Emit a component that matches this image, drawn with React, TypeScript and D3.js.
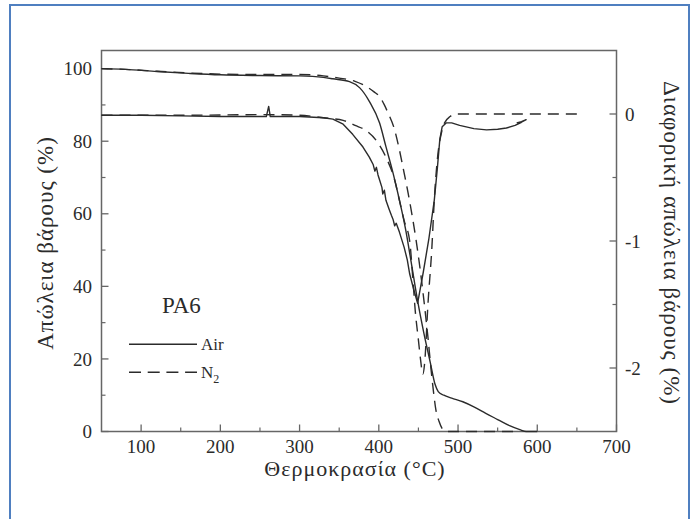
import React from 'react';
import * as d3 from 'd3';

// ---------- data ----------
const X_TICKS = [100, 200, 300, 400, 500, 600, 700];
const X_MINOR = [150, 250, 350, 450, 550, 650];
const LEFT_TICKS = [0, 20, 40, 60, 80, 100];
const LEFT_MINOR = [10, 30, 50, 70, 90];
const RIGHT_TICKS = [0, -1, -2];
const RIGHT_MINOR = [-0.5, -1.5];

// TG curves: [temperature °C, mass %]
const AIR_TG: [number, number][] = [
  [50, 100], [80, 99.8], [120, 99.2], [160, 98.7], [200, 98.3], [250, 98.1], [300, 98.0],
  [330, 97.6], [342, 97.2], [363, 96.4], [376, 94.7], [388, 91], [401, 85], [409, 78.5],
  [418, 71.2], [426, 63.8], [434, 55.5], [441, 46.5], [449, 36], [457, 27], [465, 19],
  [471, 13], [475, 11], [482, 10], [492, 9.2], [506, 8.2], [520, 6.8], [535, 5.0],
  [550, 3.3], [565, 1.6], [578, 0.5], [586, 0], [600, 0],
];
const N2_TG: [number, number][] = [
  [50, 100], [80, 99.8], [120, 99.3], [160, 98.8], [200, 98.5], [250, 98.4], [300, 98.4],
  [330, 98.0], [350, 97.4], [370, 96.5], [384, 95.1], [394, 93.6], [401, 92.3], [407, 90],
  [411, 88.1], [420, 83.1], [426, 77.6], [432, 71.2], [437, 65.7], [443, 58.3], [447, 52.8],
  [452, 45], [457, 36], [462, 26], [466, 17], [469, 11], [472, 6], [476, 2.8], [480, 0.8],
  [485, 0], [570, 0],
];
// DTG curves: [temperature °C, derivative %/°C]
const AIR_DTG: [number, number][] = [
  [50, -0.01], [100, -0.01], [150, -0.015], [200, -0.02], [258, -0.02], [261, 0.06],
  [263, -0.02], [300, -0.02], [330, -0.03], [342, -0.04], [355, -0.08], [367, -0.16],
  [380, -0.26], [388, -0.34], [393, -0.4], [395, -0.45], [397, -0.42], [399, -0.48],
  [401, -0.52], [404, -0.58], [405, -0.63], [407, -0.6], [409, -0.68], [413, -0.75],
  [416, -0.8], [418, -0.83], [420, -0.88], [422, -0.86], [426, -0.93], [432, -1.05],
  [436, -1.15], [439, -1.26], [444, -1.38], [449, -1.49], [456, -1.25], [463, -0.99],
  [470, -0.68], [474, -0.42], [477, -0.2], [480, -0.1], [485, -0.07], [492, -0.07],
  [502, -0.09], [520, -0.115], [536, -0.125], [550, -0.12], [561, -0.11], [572, -0.09],
  [580, -0.065], [586, -0.045], [580, -0.06], [574, -0.07],
];
const N2_DTG: [number, number][] = [
  [50, -0.01], [150, -0.01], [250, -0.005], [300, -0.01], [330, -0.03], [355, -0.05],
  [370, -0.09], [384, -0.13], [397, -0.21], [409, -0.34], [420, -0.52], [426, -0.68],
  [432, -0.84], [439, -1.0], [443, -1.3], [446, -1.55], [450, -1.78], [453, -1.95],
  [455.5, -2.05], [458, -1.95], [462, -1.5], [467, -1.05], [470, -0.68], [474, -0.35],
  [479, -0.15], [483, -0.07], [490, -0.02], [497, 0], [560, 0], [654, 0],
];

// ---------- layout ----------
const W = 693;
const H = 519;
const L = 101.5, R = 616.5, T = 50.5, B = 431.5;
const FONT = "'Liberation Serif', 'Times New Roman', serif";
const INK = '#2b2b2b';
const AXIS = '#666';

export default function App() {
  const x = d3.scaleLinear().domain([50, 700]).range([L, R]);
  const yL = d3.scaleLinear().domain([0, 105]).range([B, T]);
  const yR = d3.scaleLinear().domain([-2.5, 0.5]).range([B, T]);

  const tgLine = d3.line<[number, number]>().x(d => x(d[0])).y(d => yL(d[1])).curve(d3.curveMonotoneX);
  const dtgSmooth = d3.line<[number, number]>().x(d => x(d[0])).y(d => yR(d[1])).curve(d3.curveMonotoneX);
  const dtgRough = d3.line<[number, number]>().x(d => x(d[0])).y(d => yR(d[1])).curve(d3.curveLinear);

  const dash = '11,7';

  return (
    <svg width={W} height={H} style={{ position: 'absolute', left: 0, top: 0, background: '#fff' }}>
      <rect x={0} y={0} width={W} height={H} fill="#fff" />
      {/* outer blue frame */}
      <path d={`M10,${H + 2} L10,5 L689,5 L689,${H + 2}`} fill="none" stroke="#4f7fc0" strokeWidth={2} />

      {/* plot frame */}
      <rect x={L} y={T} width={R - L} height={B - T} fill="none" stroke={AXIS} strokeWidth={1.5} />

      {/* x ticks */}
      {X_TICKS.map(v => (
        <g key={'xt' + v}>
          <line x1={x(v)} x2={x(v)} y1={B} y2={B - 7} stroke={AXIS} strokeWidth={1.3} />
          <text x={x(v)} y={453} textAnchor="middle" fontFamily={FONT} fontSize={19} fill={INK}>{v}</text>
        </g>
      ))}
      {X_MINOR.map(v => (
        <line key={'xm' + v} x1={x(v)} x2={x(v)} y1={B} y2={B - 4} stroke={AXIS} strokeWidth={1.2} />
      ))}

      {/* left ticks */}
      {LEFT_TICKS.map(v => (
        <g key={'lt' + v}>
          <line x1={L} x2={L + 7} y1={yL(v)} y2={yL(v)} stroke={AXIS} strokeWidth={1.3} />
          <text x={92} y={yL(v)} dy="0.35em" textAnchor="end" fontFamily={FONT} fontSize={19} fill={INK}>{v}</text>
        </g>
      ))}
      {LEFT_MINOR.map(v => (
        <line key={'lm' + v} x1={L} x2={L + 4} y1={yL(v)} y2={yL(v)} stroke={AXIS} strokeWidth={1.2} />
      ))}

      {/* right ticks */}
      {RIGHT_TICKS.map(v => (
        <g key={'rt' + v}>
          <line x1={R} x2={R - 7} y1={yR(v)} y2={yR(v)} stroke={AXIS} strokeWidth={1.3} />
          <text x={625} y={yR(v)} dy="0.35em" textAnchor="start" fontFamily={FONT} fontSize={19} fill={INK}>{v}</text>
        </g>
      ))}
      {RIGHT_MINOR.map(v => (
        <line key={'rm' + v} x1={R} x2={R - 4} y1={yR(v)} y2={yR(v)} stroke={AXIS} strokeWidth={1.2} />
      ))}

      {/* axis titles */}
      <text x={355} y={476} textAnchor="middle" fontFamily={FONT} fontSize={22} letterSpacing={1} fill={INK}>Θερμοκρασία (°C)</text>
      <text transform={`translate(45,243) rotate(-90)`} textAnchor="middle" dominantBaseline="central" fontFamily={FONT} fontSize={23} letterSpacing={1} fill={INK}>Απώλεια βάρους (%)</text>
      <text transform={`translate(671,243) rotate(90)`} textAnchor="middle" dominantBaseline="central" fontFamily={FONT} fontSize={23} letterSpacing={1} fill={INK}>Διαφορική απώλεια βάρους (%)</text>

      {/* curves */}
      <g fill="none" stroke={INK} strokeWidth={1.4} strokeLinejoin="round">
        <path d={tgLine(AIR_TG) || ''} />
        <path d={tgLine(N2_TG) || ''} strokeDasharray={dash} />
        <path d={dtgRough(AIR_DTG) || ''} />
        <path d={dtgSmooth(N2_DTG) || ''} strokeDasharray={dash} />
      </g>

      {/* annotation + legend */}
      <text x={162} y={313} fontFamily={FONT} fontSize={23} fill={INK}>PA6</text>
      <line x1={129} x2={197} y1={344.3} y2={344.3} stroke={INK} strokeWidth={1.4} />
      <text x={201} y={350} fontFamily={FONT} fontSize={17} fill={INK}>Air</text>
      <line x1={129} x2={197} y1={372.3} y2={372.3} stroke={INK} strokeWidth={1.4} strokeDasharray="12,6.7" />
      <text x={201} y={378} fontFamily={FONT} fontSize={17} fill={INK}>
        N<tspan fontSize={12} dy={5}>2</tspan>
      </text>
    </svg>
  );
}
